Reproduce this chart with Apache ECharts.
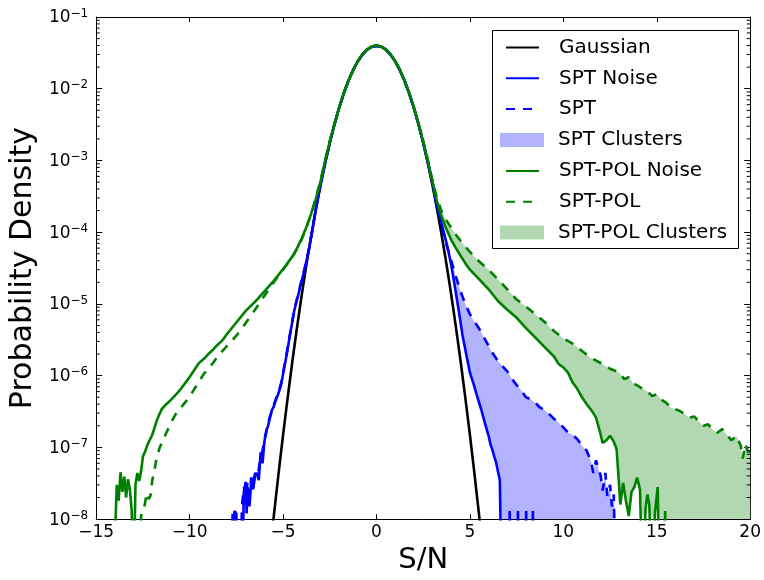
<!DOCTYPE html>
<html><head><meta charset="utf-8">
<script src="https://cdn.jsdelivr.net/npm/echarts@6/dist/echarts.min.js"></script>
<style>html,body{margin:0;padding:0;background:#fff}#c{width:764px;height:580px}</style>
</head><body><div id="c"></div>
<script>
// ---------- data ----------
const coreX = [-3,-2.75,-2.5,-2.25,-2,-1.75,-1.5,-1.25,-1,-0.75,-0.5,-0.25,0,0.25,0.5,0.75,1,1.25,1.5,1.75,2,2.25,2.5,2.75,3];

const gaussianX = [-5.75,-5.5,-5.25,-5,-4.75,-4.5,-4.25,-4,-3.75,-3.5,-3.25,-3,-2.75,-2.5,-2.25,-2,-1.75,-1.5,-1.25,-1,-0.75,-0.5,-0.25,0,0.25,0.5,0.75,1,1.25,1.5,1.75,2,2.25,2.5,2.75,3,3.25,3.5,3.75,4,4.25,4.5,4.75,5,5.25,5.5,5.75];
const gaussianY = [2.64e-9,1.08e-8,4.13e-8,1.49e-7,5.02e-7,1.60e-6,4.76e-6,1.34e-5,3.53e-5,8.73e-5,2.03e-4,4.43e-4,9.09e-4,1.753e-3,3.174e-3,5.40e-3,8.63e-3,1.295e-2,1.826e-2,2.420e-2,3.011e-2,3.521e-2,3.867e-2,3.99e-2,3.867e-2,3.521e-2,3.011e-2,2.420e-2,1.826e-2,1.295e-2,8.63e-3,5.40e-3,3.174e-3,1.753e-3,9.09e-4,4.43e-4,2.03e-4,8.73e-5,3.53e-5,1.34e-5,4.76e-6,1.60e-6,5.02e-7,1.49e-7,4.13e-8,1.08e-8,2.64e-9];

// SPT Noise (blue solid)
const sptNoiseLeftX = [-7.7,-7.6,-7.5,-7.4,-7.2,-7.1,-7.0,-6.95,-6.9,-6.8,-6.7,-6.6,-6.5,-6.4,-6.3,-6.2,-6.1,-6.0,-5.9,-5.8,-5.7,-5.6,-5.5,-5.4,-5.3,-5.2,-5.1,-5.0,-4.8,-4.6,-4.4,-4.2,-4.0,-3.8,-3.6,-3.4,-3.2];
const sptNoiseLeftY = [1e-9,1.3e-8,1.2e-8,1e-9,1e-9,2.4e-8,3.3e-8,1.2e-8,2.8e-8,1.5e-8,3.5e-8,2.6e-8,4.0e-8,4.4e-8,3.5e-8,8.5e-8,6.0e-8,1.2e-7,1.7e-7,2.0e-7,2.6e-7,3.3e-7,3.7e-7,4.5e-7,5.2e-7,6.2e-7,7.6e-7,1.05e-6,2.0e-6,4.1e-6,8.1e-6,1.3e-5,2.1e-5,3.4e-5,6.0e-5,1.2e-4,2.5e-4];
const sptNoiseCoreY = [4.6e-4,9.3e-4,1.77e-3,3.19e-3,5.40e-3,8.6e-3,1.290e-2,1.815e-2,2.405e-2,2.995e-2,3.500e-2,3.845e-2,3.965e-2,3.850e-2,3.505e-2,2.995e-2,2.405e-2,1.815e-2,1.290e-2,8.6e-3,5.40e-3,3.19e-3,1.78e-3,9.4e-4,4.8e-4];
const sptNoiseRightX = [3.2,3.4,3.6,3.8,4.0,4.2,4.4,4.6,4.8,5.0,5.2,5.4,5.6,5.8,6.0,6.1,6.2,6.3,6.4,6.5,6.6,6.7,7.05,7.13,7.2,7.5,7.57,7.64,7.94,8.01,8.08,8.3,8.37,8.44];
const sptNoiseRightY = [2.6e-4,1.6e-4,1.0e-4,6.2e-5,3.5e-5,1.7e-5,8.1e-6,3.7e-6,2.0e-6,1.1e-6,7.6e-7,5.0e-7,3.4e-7,2.2e-7,1.45e-7,1.1e-7,9.3e-8,7.5e-8,6.2e-8,4.6e-8,3.5e-8,1e-9,1e-9,1.3e-8,1e-9,1e-9,1.3e-8,1e-9,1e-9,1.3e-8,1e-9,1e-9,1.3e-8,1e-9];

// SPT (blue dashed)
const sptLeftX = [-7.8,-7.7,-7.6,-7.5,-7.3,-7.2,-7.1,-7.0,-6.9,-6.8,-6.7,-6.6,-6.5,-6.4,-6.3,-6.2,-6.1,-6.0,-5.9,-5.8,-5.7,-5.6,-5.5,-5.4,-5.3,-5.2,-5.1,-5.0,-4.8,-4.6,-4.4,-4.2,-4.0,-3.8,-3.6,-3.4,-3.2];
const sptLeftY = [1e-9,1.2e-8,1.4e-8,1e-9,1e-9,1.5e-8,2.8e-8,2.0e-8,3.3e-8,2.2e-8,3.8e-8,3.0e-8,4.4e-8,4.0e-8,5.0e-8,7.5e-8,9.0e-8,1.3e-7,1.6e-7,2.2e-7,2.7e-7,3.2e-7,3.9e-7,4.6e-7,5.5e-7,6.4e-7,8.0e-7,1.1e-6,2.1e-6,4.2e-6,8.3e-6,1.35e-5,2.2e-5,3.5e-5,6.1e-5,1.2e-4,2.5e-4];
const sptCoreY = [4.7e-4,9.4e-4,1.78e-3,3.20e-3,5.41e-3,8.62e-3,1.292e-2,1.817e-2,2.405e-2,2.990e-2,3.495e-2,3.840e-2,3.960e-2,3.845e-2,3.500e-2,2.995e-2,2.410e-2,1.820e-2,1.295e-2,8.65e-3,5.43e-3,3.22e-3,1.80e-3,9.6e-4,5.0e-4];
const sptRightX = [3.2,3.4,3.5,3.75,4.0,4.25,4.5,4.75,5.0,5.25,5.5,5.75,6.0,6.25,6.5,6.75,7.0,7.25,7.5,7.75,8.0,8.25,8.5,8.75,9.0,9.25,9.5,9.75,10.0,10.25,10.5,10.75,11.0,11.25,11.5,11.6,11.75,12.0,12.1,12.25,12.35,12.5,12.6,12.7,12.8];
const sptRightY = [2.7e-4,1.7e-4,1.2e-4,6.6e-5,4.0e-5,2.4e-5,1.5e-5,1.0e-5,7.2e-6,5.6e-6,4.5e-6,3.4e-6,2.6e-6,2.0e-6,1.6e-6,1.35e-6,1.15e-6,9.0e-7,7.4e-7,6.2e-7,5.0e-7,4.7e-7,4.2e-7,3.6e-7,3.3e-7,2.9e-7,2.5e-7,2.2e-7,1.9e-7,1.6e-7,1.5e-7,1.3e-7,1.05e-7,9.0e-8,6.2e-8,4.4e-8,6.6e-8,4.0e-8,2.5e-8,4.4e-8,2.1e-8,3.0e-8,1.5e-8,2.2e-8,1e-9];

// SPT-POL Noise (green solid)
const sptPolNoiseLeftX = [-14.1,-14.0,-13.9,-13.8,-13.7,-13.6,-13.5,-13.4,-13.3,-13.2,-13.1,-13.0,-12.9,-12.8,-12.7,-12.6,-12.5,-12.4,-12.25,-12.0,-11.75,-11.5,-11.25,-11.0,-10.75,-10.5,-10.25,-10.0,-9.75,-9.5,-9.25,-9.0,-8.75,-8.5,-8.25,-8.0,-7.5,-7.0,-6.5,-6.0,-5.5,-5.0,-4.5,-4.25,-4.0,-3.75,-3.5,-3.25];
const sptPolNoiseLeftY = [1e-9,1e-9,3.0e-8,1.8e-8,4.5e-8,2.4e-8,3.9e-8,2.0e-8,3.6e-8,2.6e-8,1.3e-8,1e-9,3.0e-8,4.4e-8,3.4e-8,4.6e-8,7.5e-8,8.5e-8,1.1e-7,1.5e-7,2.4e-7,3.4e-7,4.0e-7,4.6e-7,5.4e-7,6.4e-7,7.8e-7,9.6e-7,1.2e-6,1.5e-6,1.7e-6,2.0e-6,2.3e-6,2.7e-6,3.1e-6,3.8e-6,5.5e-6,8.0e-6,1.07e-5,1.5e-5,2.1e-5,3.05e-5,4.6e-5,6.0e-5,8.2e-5,1.18e-4,1.8e-4,2.9e-4];
const sptPolNoiseCoreY = [5.0e-4,9.8e-4,1.82e-3,3.22e-3,5.42e-3,8.65e-3,1.300e-2,1.830e-2,2.425e-2,3.020e-2,3.530e-2,3.880e-2,4.010e-2,3.885e-2,3.535e-2,3.020e-2,2.425e-2,1.830e-2,1.300e-2,8.65e-3,5.42e-3,3.22e-3,1.82e-3,9.8e-4,5.0e-4];
const sptPolNoiseRightX = [3.25,3.5,3.75,4.0,4.25,4.5,4.75,5.0,5.5,6.0,6.5,7.0,7.5,8.0,8.5,9.0,9.5,9.75,10.0,10.25,10.5,10.75,11.0,11.25,11.5,11.75,12.0,12.1,12.3,12.5,12.7,12.85,12.95,13.05,13.2,13.35,13.5,13.65,13.8,13.95,14.1,14.25,14.4,14.5,14.6,14.75,14.9,15.05,15.15,15.3,15.45,15.55];
const sptPolNoiseRightY = [2.6e-4,1.6e-4,1.1e-4,7.8e-5,6.0e-5,4.7e-5,3.7e-5,3.0e-5,2.2e-5,1.6e-5,1.1e-5,8.3e-6,6.4e-6,4.6e-6,3.4e-6,2.5e-6,1.85e-6,1.45e-6,1.3e-6,1.1e-6,8.0e-7,6.5e-7,5.0e-7,4.0e-7,3.3e-7,2.6e-7,1.5e-7,1.15e-7,1.25e-7,1.45e-7,1.2e-7,9.5e-8,4.0e-8,1.6e-8,3.2e-8,1.8e-8,1.1e-8,2.4e-8,2.8e-8,3.8e-8,2.6e-8,1e-9,1.4e-8,2.2e-8,1.6e-8,1e-9,1.2e-8,2.8e-8,1e-9,1e-9,1.3e-8,1e-9];

// SPT-POL (green dashed)
const sptPolLeftX = [-12.7,-12.6,-12.5,-12.4,-12.3,-12.2,-12.1,-12.0,-11.9,-11.8,-11.6,-11.4,-11.2,-11.0,-10.75,-10.5,-10.25,-10.0,-9.75,-9.5,-9.25,-9.0,-8.75,-8.5,-8.25,-8.0,-7.5,-7.0,-6.5,-6.0,-5.5,-5.0,-4.5,-4.25,-4.0,-3.75,-3.5,-3.25];
const sptPolLeftY = [1e-9,1.1e-8,1.3e-8,1.6e-8,2.3e-8,1.9e-8,2.1e-8,3.5e-8,4.4e-8,6.5e-8,1.0e-7,1.3e-7,1.7e-7,2.2e-7,2.9e-7,3.5e-7,4.2e-7,5.1e-7,6.5e-7,8.2e-7,1.05e-6,1.25e-6,1.5e-6,1.85e-6,2.2e-6,2.6e-6,3.6e-6,5.4e-6,8.3e-6,1.3e-5,2.0e-5,3.0e-5,4.5e-5,5.9e-5,8.0e-5,1.16e-4,1.78e-4,3.0e-4];
const sptPolCoreY = [5.2e-4,1.01e-3,1.86e-3,3.27e-3,5.48e-3,8.72e-3,1.305e-2,1.835e-2,2.425e-2,3.010e-2,3.515e-2,3.865e-2,3.995e-2,3.870e-2,3.520e-2,3.010e-2,2.425e-2,1.835e-2,1.305e-2,8.72e-3,5.48e-3,3.27e-3,1.86e-3,1.01e-3,5.2e-4];
const sptPolRightX = [3.25,3.5,3.75,4.0,4.25,4.5,4.75,5.0,5.5,6.0,6.5,7.0,7.5,8.0,8.5,9.0,9.5,10.0,10.5,11.0,11.5,12.0,12.5,13.0,13.25,13.5,13.75,14.0,14.25,14.5,14.75,15.0,15.25,15.5,15.75,16.0,16.25,16.5,16.75,17.0,17.25,17.5,17.75,18.0,18.25,18.5,18.75,19.0,19.25,19.5,19.6,19.75,19.9,20.0];
const sptPolRightY = [2.9e-4,1.9e-4,1.45e-4,1.15e-4,9.2e-5,7.6e-5,6.3e-5,5.3e-5,3.9e-5,3.0e-5,2.2e-5,1.6e-5,1.15e-5,9.2e-6,7.2e-6,5.6e-6,4.2e-6,3.3e-6,2.8e-6,2.2e-6,1.75e-6,1.5e-6,1.25e-6,1.1e-6,9.0e-7,9.5e-7,7.8e-7,7.2e-7,6.5e-7,6.0e-7,5.2e-7,5.5e-7,4.6e-7,4.2e-7,3.6e-7,3.4e-7,3.2e-7,2.9e-7,2.6e-7,2.7e-7,2.3e-7,2.0e-7,2.1e-7,1.75e-7,1.6e-7,1.8e-7,1.5e-7,1.25e-7,1.45e-7,1.05e-7,7.0e-8,1.1e-7,8.5e-8,9.5e-8];

const lineNames = ['Gaussian','SPT Noise','SPT','SPT-POL Noise','SPT-POL'];
const fillNames = ['SPT Clusters','SPT-POL Clusters'];
const xTickLabels = ['\u221215','\u221210','\u22125','0','5','10','15','20'];

// ---------- build ----------
const X_MIN = -15, X_MAX = 20, Y_MIN = 1e-8, Y_MAX = 1e-1;
const zip = (xs, ys) => xs.map((x, i) => [x, ys[i]]);
const sptNoise = zip([...sptNoiseLeftX, ...coreX, ...sptNoiseRightX], [...sptNoiseLeftY, ...sptNoiseCoreY, ...sptNoiseRightY]);
const spt = zip([...sptLeftX, ...coreX, ...sptRightX], [...sptLeftY, ...sptCoreY, ...sptRightY]);
const sptPolNoise = zip([...sptPolNoiseLeftX, ...coreX, ...sptPolNoiseRightX], [...sptPolNoiseLeftY, ...sptPolNoiseCoreY, ...sptPolNoiseRightY]);
const sptPol = zip([...sptPolLeftX, ...coreX, ...sptPolRightX], [...sptPolLeftY, ...sptPolCoreY, ...sptPolRightY]);
const gaussian = zip(gaussianX, gaussianY);

function between(upper, lower, x0, x1) {
  const up = upper.filter(p => p[0] >= x0 && p[0] <= x1).map(p => [p[0], Math.max(p[1], Y_MIN)]);
  const lo = lower.filter(p => p[0] >= x0 && p[0] <= x1).map(p => [p[0], Math.max(p[1], Y_MIN)]).reverse();
  up.push([up[up.length - 1][0], Y_MIN]);
  return up.concat(lo);
}
const sptFill = between(spt, sptNoise, 3.2, 13);
const sptPolFill = between(sptPol, sptPolNoise, 3.25, 20);

const minorTickVals = [];
for (let d = -8; d <= -2; d++) for (let k = 2; k <= 9; k++) minorTickVals.push([X_MIN, k * Math.pow(10, d)]);

const FONT = 'DejaVu Sans';
const BLUE = '#0000ff', GREEN = '#008000';
const LW = 2.6, DASH = [9, 8];

function lineSeries(name, data, color, dashed, z) {
  return {
    name, type: 'line', data, symbol: 'none', showSymbol: false, clip: true, z,
    lineStyle: { color, width: LW, type: dashed ? DASH : 'solid', cap: 'butt' },
    itemStyle: { color }, emphasis: { disabled: true }, silent: true, animation: false
  };
}
function fillSeries(name, poly, color) {
  return {
    name, type: 'custom', coordinateSystem: 'cartesian2d', data: poly, z: 1, clip: true,
    encode: { x: 0, y: 1 }, itemStyle: { color }, silent: true, animation: false,
    renderItem: (params, api) => {
      if (params.dataIndex !== 0) return null;
      return { type: 'polygon', shape: { points: poly.map(p => api.coord(p)) }, style: { fill: color } };
    }
  };
}
function legendBlock(names, top, isFill) {
  return {
    data: names.map(n => isFill ? { name: n, icon: 'rect' } : { name: n, itemStyle: { opacity: 0 } }),
    orient: 'vertical', left: isFill ? 500 : 505, top, padding: 0,
    itemWidth: isFill ? 44 : 33, itemHeight: 14, itemGap: 10.8, selectedMode: false,
    formatter: n => '{t|' + n + '}',
    textStyle: { fontSize: 20, fontFamily: FONT, color: '#000',
      rich: { t: { fontSize: 20, fontFamily: FONT, color: '#000', padding: [0, 0, 0, isFill ? 9 : 15] } } }
  };
}

const axisLine = { show: true, onZero: false, lineStyle: { color: '#000', width: 1 } };
const option = {
  animation: false,
  backgroundColor: '#fff',
  grid: { left: 94, right: 12, top: 17, bottom: 50, containLabel: false },
  graphic: [{ type: 'rect', z: 3, silent: true,
    shape: { x: 492.5, y: 30.5, width: 246, height: 218 },
    style: { fill: '#fff', stroke: '#000', lineWidth: 1 } }],
  xAxis: [
    { type: 'value', min: X_MIN, max: X_MAX, interval: 5, position: 'bottom',
      axisLine, axisTick: { show: true, inside: true, length: 5, lineStyle: { color: '#000' } },
      splitLine: { show: false },
      axisLabel: { margin: 5, fontSize: 17, fontFamily: FONT, color: '#000',
        formatter: v => xTickLabels[Math.round((v - X_MIN) / 5)] },
      name: 'S/N', nameLocation: 'middle', nameGap: 24,
      nameTextStyle: { fontSize: 29, fontFamily: FONT, color: '#000' } },
    { type: 'value', min: X_MIN, max: X_MAX, interval: 5, position: 'top',
      axisLine, axisTick: { show: true, inside: true, length: 5, lineStyle: { color: '#000' } },
      splitLine: { show: false }, axisLabel: { show: false } }
  ],
  yAxis: [
    { type: 'log', logBase: 10, min: Y_MIN, max: Y_MAX, position: 'left',
      axisLine, axisTick: { show: true, inside: true, length: 6, lineStyle: { color: '#000' } },
      splitLine: { show: false }, minorTick: { show: false },
      axisLabel: { margin: 8, color: '#000', fontFamily: FONT,
        formatter: v => '{b|10}{s|\u2212' + (-Math.round(Math.log10(v))) + '}',
        rich: {
          b: { fontSize: 17, fontFamily: FONT, color: '#000', verticalAlign: 'bottom' },
          s: { fontSize: 12, fontFamily: FONT, color: '#000', verticalAlign: 'top', padding: [0, 0, 7, 0] }
        } },
      name: 'Probability Density', nameLocation: 'middle', nameGap: 50,
      nameTextStyle: { fontSize: 30, fontFamily: FONT, color: '#000' } },
    { type: 'log', logBase: 10, min: Y_MIN, max: Y_MAX, position: 'right',
      axisLine, axisTick: { show: true, inside: true, length: 6, lineStyle: { color: '#000' } },
      splitLine: { show: false }, axisLabel: { show: false } }
  ],
  legend: [
    legendBlock(lineNames.slice(0, 3), 37.5, false),
    legendBlock([fillNames[0]], 130, true),
    legendBlock(lineNames.slice(3, 5), 161, false),
    legendBlock([fillNames[1]], 222.5, true)
  ],
  series: [
    fillSeries('SPT Clusters', sptFill, '#b2b2ff'),
    fillSeries('SPT-POL Clusters', sptPolFill, '#b2d8b2'),
    lineSeries('Gaussian', gaussian, '#000000', false, 2),
    lineSeries('SPT Noise', sptNoise, BLUE, false, 3),
    lineSeries('SPT', spt, BLUE, true, 4),
    lineSeries('SPT-POL Noise', sptPolNoise, GREEN, false, 5),
    lineSeries('SPT-POL', sptPol, GREEN, true, 6),
    { type: 'custom', coordinateSystem: 'cartesian2d', data: minorTickVals, z: 8, silent: true,
      encode: { x: 0, y: 1 }, clip: false,
      renderItem: (params, api) => {
        const v = api.value(1);
        const pl = api.coord([X_MIN, v]), pr = api.coord([X_MAX, v]);
        return { type: 'group', children: [
          { type: 'line', shape: { x1: pl[0], y1: pl[1], x2: pl[0] + 3.5, y2: pl[1] }, style: { stroke: '#000', lineWidth: 1 } },
          { type: 'line', shape: { x1: pr[0], y1: pr[1], x2: pr[0] - 3.5, y2: pr[1] }, style: { stroke: '#000', lineWidth: 1 } }
        ] };
      } }
  ]
};
const chart = echarts.init(document.getElementById('c'), null, { renderer: 'canvas' });
chart.setOption(option);
</script></body></html>
